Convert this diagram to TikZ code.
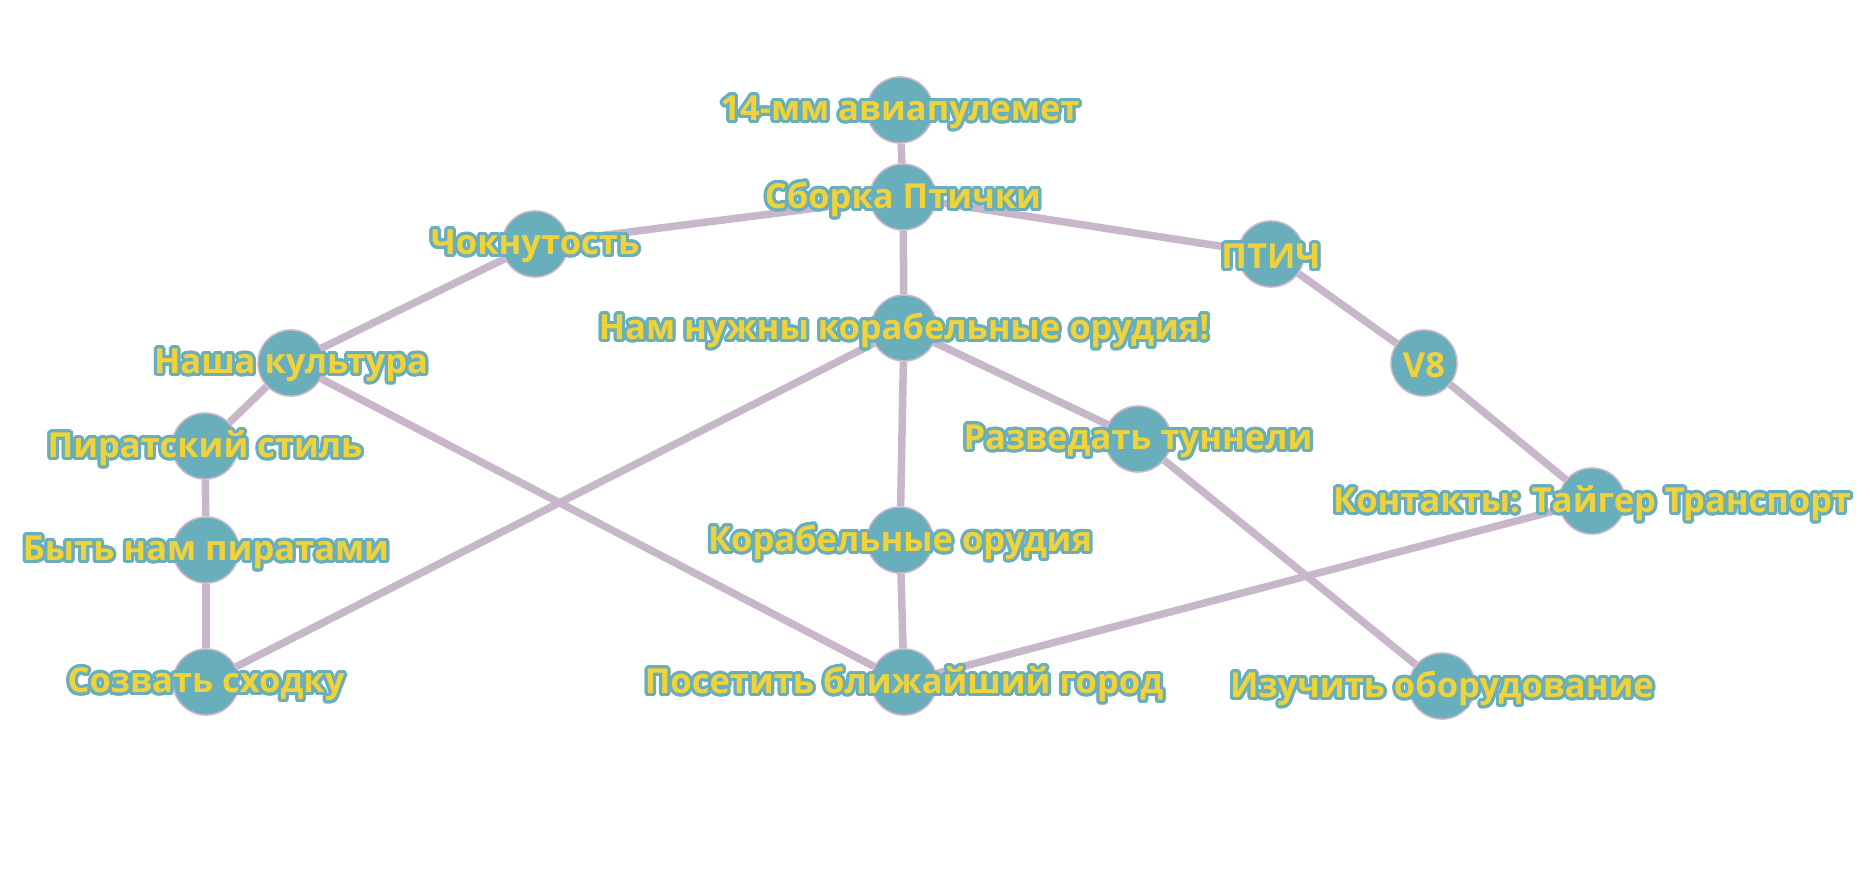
\documentclass[tikz,border=0pt]{standalone}
\usepackage{fontspec}
\setmainfont{Open Sans}
\usepackage[copies]{contour}
\contourlength{3.1pt}
\contournumber{24}
\definecolor{dotteal}{HTML}{69AEBB}
\definecolor{edgelilac}{HTML}{C8B6CA}
\definecolor{txtyellow}{HTML}{F0D33A}
\newcommand{\qlabel}[1]{\contour{dotteal}{\textcolor{txtyellow}{#1}}}
\begin{document}
\begin{tikzpicture}[
                x=1pt, y=-1pt,
                dot/.style={circle, draw=edgelilac, line width=1.6pt, fill=dotteal, minimum size=66pt, inner sep=0pt},
                lbl/.style={inner sep=0pt, yshift=-4pt, font=\fontsize{34.5}{38}\selectfont\bfseries},
                link/.style={draw=edgelilac, line width=7.5pt},
            ]
            \useasboundingbox (0,0) rectangle (1870,887);
            % quests
            \node[dot] (mg) at (900,110) {};
            \node[dot] (sb) at (903,197) {};
            \node[dot] (ch) at (535,244) {};
            \node[dot] (pt) at (1271,254) {};
            \node[dot] (nn) at (904,328) {};
            \node[dot] (nk) at (291,363) {};
            \node[dot] (ve) at (1424,363) {};
            \node[dot] (ps) at (205,446) {};
            \node[dot] (rt) at (1138,439) {};
            \node[dot] (kt) at (1592,501) {};
            \node[dot] (bp) at (206,550) {};
            \node[dot] (ko) at (900,540) {};
            \node[dot] (ss) at (206,682) {};
            \node[dot] (pg) at (904,682) {};
            \node[dot] (io) at (1442,686) {};
            % links
            \draw[link] (mg) -- (sb);
            \draw[link] (sb) -- (ch);
            \draw[link] (sb) -- (pt);
            \draw[link] (sb) -- (nn);
            \draw[link] (ch) -- (nk);
            \draw[link] (pt) -- (ve);
            \draw[link] (ve) -- (kt);
            \draw[link] (nk) -- (ps);
            \draw[link] (nk) -- (pg);
            \draw[link] (nn) -- (ss);
            \draw[link] (nn) -- (ko);
            \draw[link] (nn) -- (rt);
            \draw[link] (ps) -- (bp);
            \draw[link] (bp) -- (ss);
            \draw[link] (ko) -- (pg);
            \draw[link] (rt) -- (io);
            \draw[link] (kt) -- (pg);
            % labels
            \node[lbl] (mg-l) at (mg) {\qlabel{14-мм авиапулемет}};
            \node[lbl] (sb-l) at (sb) {\qlabel{Сборка Птички}};
            \node[lbl] (ch-l) at (ch) {\qlabel{Чокнутость}};
            \node[lbl] (pt-l) at (pt) {\qlabel{ПТИЧ}};
            \node[lbl] (nn-l) at (nn) {\qlabel{Нам нужны корабельные орудия!}};
            \node[lbl] (nk-l) at (nk) {\qlabel{Наша культура}};
            \node[lbl] (ve-l) at (ve) {\qlabel{V8}};
            \node[lbl] (ps-l) at (ps) {\qlabel{Пиратский стиль}};
            \node[lbl] (rt-l) at (rt) {\qlabel{Разведать туннели}};
            \node[lbl] (kt-l) at (kt) {\qlabel{Контакты: Тайгер Транспорт}};
            \node[lbl] (bp-l) at (bp) {\qlabel{Быть нам пиратами}};
            \node[lbl] (ko-l) at (ko) {\qlabel{Корабельные орудия}};
            \node[lbl] (ss-l) at (ss) {\qlabel{Созвать сходку}};
            \node[lbl] (pg-l) at (pg) {\qlabel{Посетить ближайший город}};
            \node[lbl] (io-l) at (io) {\qlabel{Изучить оборудование}};
\end{tikzpicture}
\end{document}
